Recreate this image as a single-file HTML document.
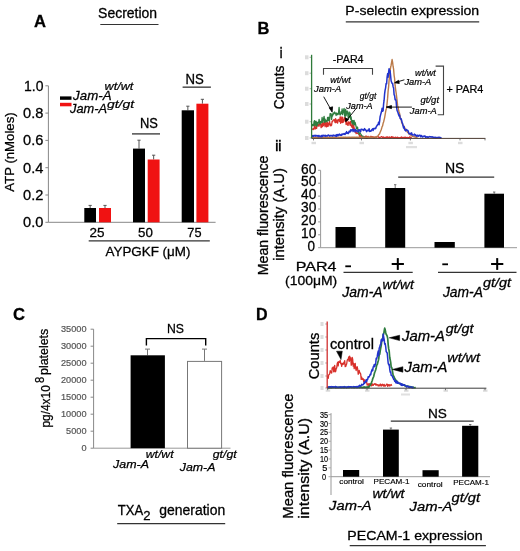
<!DOCTYPE html>
<html><head><meta charset="utf-8"><style>
html,body{margin:0;padding:0;background:#fff;}
svg{display:block;will-change:transform;}
text{font-family:"Liberation Sans",sans-serif;}
</style></head><body>
<svg width="520" height="551" viewBox="0 0 520 551">
<rect width="520" height="551" fill="#fff"/>
<text x="34.00" y="27.00" font-size="17.0" font-weight="bold" fill="#000" stroke="#000" stroke-width="0.30" textLength="12.00" lengthAdjust="spacingAndGlyphs">A</text>
<text x="98.10" y="18.00" font-size="14.0" fill="#000" stroke="#000" stroke-width="0.29" textLength="58.99" lengthAdjust="spacingAndGlyphs">Secretion</text>
<line x1="100.3" y1="24.5" x2="158.5" y2="24.5" stroke="#333" stroke-width="1"/>
<line x1="48.4" y1="85.8" x2="48.4" y2="222.3" stroke="#888" stroke-width="1"/>
<line x1="48.4" y1="222.3" x2="215.6" y2="222.3" stroke="#888" stroke-width="1"/>
<line x1="45.4" y1="222.3" x2="48.4" y2="222.3" stroke="#888" stroke-width="1"/>
<text x="23.10" y="227.20" font-size="15.0" fill="#000" stroke="#000" stroke-width="0.30" textLength="20.30" lengthAdjust="spacingAndGlyphs">0.0</text>
<line x1="45.4" y1="195.0" x2="48.4" y2="195.0" stroke="#888" stroke-width="1"/>
<text x="23.10" y="199.90" font-size="15.0" fill="#000" stroke="#000" stroke-width="0.30" textLength="20.30" lengthAdjust="spacingAndGlyphs">0.2</text>
<line x1="45.4" y1="167.70000000000002" x2="48.4" y2="167.70000000000002" stroke="#888" stroke-width="1"/>
<text x="23.10" y="172.60" font-size="15.0" fill="#000" stroke="#000" stroke-width="0.30" textLength="20.30" lengthAdjust="spacingAndGlyphs">0.4</text>
<line x1="45.4" y1="140.4" x2="48.4" y2="140.4" stroke="#888" stroke-width="1"/>
<text x="23.10" y="145.30" font-size="15.0" fill="#000" stroke="#000" stroke-width="0.30" textLength="20.30" lengthAdjust="spacingAndGlyphs">0.6</text>
<line x1="45.4" y1="113.10000000000001" x2="48.4" y2="113.10000000000001" stroke="#888" stroke-width="1"/>
<text x="23.10" y="118.00" font-size="15.0" fill="#000" stroke="#000" stroke-width="0.30" textLength="20.30" lengthAdjust="spacingAndGlyphs">0.8</text>
<line x1="45.4" y1="85.80000000000001" x2="48.4" y2="85.80000000000001" stroke="#888" stroke-width="1"/>
<text x="24.00" y="90.70" font-size="15.0" fill="#000" stroke="#000" stroke-width="0.30" textLength="19.40" lengthAdjust="spacingAndGlyphs">1.0</text>
<text transform="translate(14.10,191.70) rotate(-90)" x="-0.00" y="0" font-size="13.0" fill="#000" stroke="#000" stroke-width="0.27" textLength="79.40" lengthAdjust="spacingAndGlyphs">ATP (nMoles)</text>
<rect x="60.00" y="96.40" width="11.50" height="3.40" fill="#000" stroke="none" stroke-width="1"/>
<rect x="60.00" y="102.80" width="11.50" height="3.50" fill="#f01212" stroke="none" stroke-width="1"/>
<text x="73.14" y="100.30" font-size="13.0" font-style="italic" fill="#000" stroke="#000" stroke-width="0.27" textLength="38.36" lengthAdjust="spacingAndGlyphs">Jam-A</text>
<text x="104.60" y="89.50" font-size="11.0" font-style="italic" fill="#000" stroke="#000" stroke-width="0.23" textLength="28.76" lengthAdjust="spacingAndGlyphs">wt/wt</text>
<text x="70.04" y="113.00" font-size="13.0" font-style="italic" fill="#000" stroke="#000" stroke-width="0.27" textLength="36.96" lengthAdjust="spacingAndGlyphs">Jam-A</text>
<text x="107.00" y="108.00" font-size="11.0" font-style="italic" fill="#000" stroke="#000" stroke-width="0.23" textLength="27.11" lengthAdjust="spacingAndGlyphs">gt/gt</text>
<line x1="90.15" y1="205.4" x2="90.15" y2="208" stroke="#555" stroke-width="1"/>
<line x1="88.55000000000001" y1="205.4" x2="91.75" y2="205.4" stroke="#555" stroke-width="1"/>
<rect x="84.30" y="208.00" width="11.70" height="14.30" fill="#000" stroke="none" stroke-width="1"/>
<line x1="105.0" y1="205.4" x2="105.0" y2="208" stroke="#555" stroke-width="1"/>
<line x1="103.4" y1="205.4" x2="106.6" y2="205.4" stroke="#555" stroke-width="1"/>
<rect x="99.00" y="208.00" width="12.00" height="14.30" fill="#f01212" stroke="none" stroke-width="1"/>
<line x1="139.0" y1="140.2" x2="139.0" y2="148.6" stroke="#555" stroke-width="1"/>
<line x1="137.4" y1="140.2" x2="140.6" y2="140.2" stroke="#555" stroke-width="1"/>
<rect x="133.00" y="148.60" width="12.00" height="73.70" fill="#000" stroke="none" stroke-width="1"/>
<line x1="153.64999999999998" y1="155.2" x2="153.64999999999998" y2="159.5" stroke="#555" stroke-width="1"/>
<line x1="152.04999999999998" y1="155.2" x2="155.24999999999997" y2="155.2" stroke="#555" stroke-width="1"/>
<rect x="147.70" y="159.50" width="11.90" height="62.80" fill="#f01212" stroke="none" stroke-width="1"/>
<line x1="187.85" y1="106.2" x2="187.85" y2="110.3" stroke="#555" stroke-width="1"/>
<line x1="186.25" y1="106.2" x2="189.45" y2="106.2" stroke="#555" stroke-width="1"/>
<rect x="181.70" y="110.30" width="12.30" height="112.00" fill="#000" stroke="none" stroke-width="1"/>
<line x1="202.4" y1="99.3" x2="202.4" y2="103.7" stroke="#555" stroke-width="1"/>
<line x1="200.8" y1="99.3" x2="204.0" y2="99.3" stroke="#555" stroke-width="1"/>
<rect x="196.40" y="103.70" width="12.00" height="118.60" fill="#f01212" stroke="none" stroke-width="1"/>
<text x="140.00" y="128.40" font-size="14.2" fill="#000" stroke="#000" stroke-width="0.30" textLength="17.90" lengthAdjust="spacingAndGlyphs">NS</text>
<line x1="132" y1="133.9" x2="160" y2="133.9" stroke="#333" stroke-width="1.3"/>
<text x="185.60" y="84.40" font-size="14.2" fill="#000" stroke="#000" stroke-width="0.30" textLength="18.30" lengthAdjust="spacingAndGlyphs">NS</text>
<line x1="182.6" y1="87.15" x2="210.9" y2="87.15" stroke="#333" stroke-width="1.3"/>
<text x="89.50" y="236.70" font-size="13.5" fill="#000" stroke="#000" stroke-width="0.28" textLength="15.00" lengthAdjust="spacingAndGlyphs">25</text>
<text x="138.00" y="236.70" font-size="13.5" fill="#000" stroke="#000" stroke-width="0.28" textLength="14.80" lengthAdjust="spacingAndGlyphs">50</text>
<text x="187.30" y="236.70" font-size="13.5" fill="#000" stroke="#000" stroke-width="0.28" textLength="14.20" lengthAdjust="spacingAndGlyphs">75</text>
<line x1="88.7" y1="240.9" x2="209.8" y2="240.9" stroke="#333" stroke-width="1.2"/>
<text x="105.50" y="256.30" font-size="13.4" fill="#000" stroke="#000" stroke-width="0.28" textLength="84.89" lengthAdjust="spacingAndGlyphs">AYPGKF (μM)</text>
<text x="257.50" y="33.70" font-size="17.0" font-weight="bold" fill="#000" stroke="#000" stroke-width="0.30" textLength="11.90" lengthAdjust="spacingAndGlyphs">B</text>
<text x="345.30" y="15.20" font-size="13.4" fill="#000" stroke="#000" stroke-width="0.28" textLength="133.91" lengthAdjust="spacingAndGlyphs">P-selectin expression</text>
<line x1="345.8" y1="21.9" x2="479.2" y2="21.9" stroke="#333" stroke-width="1.2"/>
<text x="279.80" y="57.70" font-size="14.5" font-weight="bold" fill="#000" stroke="#000" stroke-width="0.30" textLength="2.70" lengthAdjust="spacingAndGlyphs">i</text>
<text transform="translate(284.20,109.20) rotate(-90)" x="-0.00" y="0" font-size="14.5" fill="#000" stroke="#000" stroke-width="0.30" textLength="43.71" lengthAdjust="spacingAndGlyphs">Counts</text>
<line x1="309.6" y1="57.3" x2="311.6" y2="57.3" stroke="#777" stroke-width="0.6"/>
<rect x="305.00" y="55.30" width="3.50" height="4.00" fill="#dcdcdc" stroke="none" stroke-width="1"/>
<line x1="309.6" y1="73.2" x2="311.6" y2="73.2" stroke="#777" stroke-width="0.6"/>
<rect x="305.00" y="71.20" width="3.50" height="4.00" fill="#dcdcdc" stroke="none" stroke-width="1"/>
<line x1="309.6" y1="88.7" x2="311.6" y2="88.7" stroke="#777" stroke-width="0.6"/>
<rect x="305.00" y="86.70" width="3.50" height="4.00" fill="#dcdcdc" stroke="none" stroke-width="1"/>
<line x1="309.6" y1="104" x2="311.6" y2="104" stroke="#777" stroke-width="0.6"/>
<rect x="305.00" y="102.00" width="3.50" height="4.00" fill="#dcdcdc" stroke="none" stroke-width="1"/>
<line x1="309.6" y1="121.7" x2="311.6" y2="121.7" stroke="#777" stroke-width="0.6"/>
<rect x="305.00" y="119.70" width="3.50" height="4.00" fill="#dcdcdc" stroke="none" stroke-width="1"/>
<line x1="309.6" y1="138" x2="311.6" y2="138" stroke="#777" stroke-width="0.6"/>
<rect x="305.00" y="136.00" width="3.50" height="4.00" fill="#dcdcdc" stroke="none" stroke-width="1"/>
<rect x="311.50" y="141.80" width="4.50" height="2.40" fill="#dcdcdc" stroke="none" stroke-width="1"/>
<rect x="359.50" y="141.80" width="4.50" height="2.40" fill="#dcdcdc" stroke="none" stroke-width="1"/>
<rect x="408.40" y="141.80" width="4.50" height="2.40" fill="#dcdcdc" stroke="none" stroke-width="1"/>
<rect x="458.00" y="141.80" width="4.50" height="2.40" fill="#dcdcdc" stroke="none" stroke-width="1"/>
<rect x="406.00" y="146.00" width="11.00" height="2.20" fill="#e0e0e0" stroke="none" stroke-width="1"/>
<polyline points="311.60,128.63 312.10,129.02 312.60,129.09 313.10,129.66 313.60,128.39 314.10,129.16 314.60,124.13 315.10,126.29 315.60,128.81 316.10,127.10 316.60,128.40 317.10,123.93 317.60,125.81 318.10,124.46 318.60,126.03 319.10,126.10 319.60,122.82 320.10,123.87 320.60,124.12 321.10,127.67 321.60,126.71 322.10,123.11 322.60,126.71 323.10,122.77 323.60,125.47 324.10,122.49 324.60,121.64 325.10,126.67 325.60,122.59 326.10,122.47 326.60,126.93 327.10,126.12 327.60,122.44 328.10,126.39 328.60,123.66 329.10,124.37 329.60,121.29 330.10,125.73 330.60,124.07 331.10,125.71 331.60,125.16 332.10,121.31 332.60,121.60 333.10,120.25 333.60,120.02 334.10,119.39 334.60,120.80 335.10,122.63 335.60,118.53 336.10,122.72 336.60,120.29 337.10,119.90 337.60,123.08 338.10,120.63 338.60,119.32 339.10,120.23 339.60,121.55 340.10,116.98 340.60,123.32 341.10,116.89 341.60,121.90 342.10,122.60 342.60,117.06 343.10,122.33 343.60,119.55 344.10,121.08 344.60,117.52 345.10,118.04 345.60,119.20 346.10,124.53 346.60,119.83 347.10,123.70 347.60,125.04 348.10,125.35 348.60,121.82 349.10,122.15 349.60,123.45 350.10,125.24 350.60,121.42 351.10,125.62 351.60,126.49 352.10,127.43 352.60,123.42 353.10,129.09 353.60,125.42 354.10,127.63 354.60,129.83 355.10,132.05 355.60,130.37 356.10,133.60 356.60,132.96 357.10,132.97 357.60,133.49 358.10,133.60 358.60,133.87 359.10,134.63 359.60,136.23 360.10,137.12 360.60,135.55 361.10,135.61 361.60,137.57 362.10,136.96 362.60,136.76 363.10,136.49 363.60,137.07 364.10,137.45 364.60,136.86 365.10,136.81 365.60,136.24 366.10,137.61 366.60,136.22 367.10,136.95 367.60,137.50 368.10,136.40 368.60,137.34 369.10,137.68 369.60,137.19 370.10,137.44 370.60,136.40 371.10,136.91 371.60,136.48 372.10,137.54 372.60,136.72 373.10,136.96 373.60,137.79 374.10,137.57 374.60,137.76 375.10,136.99 375.60,137.05 376.10,137.41 376.60,137.04 377.10,136.78 377.60,136.95 378.10,136.58 378.60,136.92 379.10,137.81 379.60,137.77 380.10,137.30 380.60,137.12 381.10,136.90 381.60,136.55 382.10,136.82 382.60,137.54 383.10,137.67 383.60,136.97 384.10,137.57 384.60,137.56 385.10,137.45 385.60,137.41 386.10,137.55 386.60,137.00 387.10,137.49 387.60,136.90 388.10,137.19 388.60,137.60 389.10,137.49 389.60,136.94 390.10,137.86 390.60,137.45 391.10,137.36 391.60,136.57 392.10,137.33 392.60,136.92 393.10,137.51 393.60,137.23 394.10,137.73 394.60,137.50 395.10,137.71 395.60,137.09 396.10,137.51 396.60,137.65 397.10,137.78 397.60,137.12 398.10,137.81 398.60,137.86 399.10,137.61 399.60,137.90 400.10,137.90 400.60,137.39 401.10,137.41 401.60,136.91 402.10,137.85 402.60,137.90 403.10,137.36 403.60,137.67 404.10,137.71 404.60,137.73 405.10,136.96 405.60,137.82 406.10,137.54 406.60,137.67 407.10,137.33 407.60,137.62 408.10,137.84 408.60,137.65 409.10,137.77 409.60,136.81 410.10,137.00 410.60,137.40 411.10,137.70 411.60,137.10" fill="none" stroke="#d8302a" stroke-width="1.3" stroke-linejoin="round"/>
<polyline points="311.60,124.43 312.10,125.90 312.60,124.46 313.10,125.55 313.60,125.33 314.10,121.36 314.60,120.62 315.10,125.69 315.60,121.66 316.10,121.28 316.60,126.20 317.10,122.46 317.60,124.76 318.10,122.10 318.60,123.02 319.10,119.43 319.60,122.60 320.10,124.05 320.60,121.42 321.10,122.78 321.60,122.09 322.10,117.52 322.60,122.33 323.10,120.92 323.60,118.60 324.10,116.40 324.60,122.37 325.10,119.25 325.60,120.84 326.10,121.81 326.60,120.33 327.10,121.67 327.60,117.39 328.10,120.28 328.60,117.27 329.10,120.87 329.60,120.19 330.10,113.72 330.60,113.60 331.10,113.83 331.60,119.53 332.10,114.79 332.60,115.97 333.10,112.85 333.60,114.18 334.10,112.75 334.60,112.04 335.10,113.64 335.60,113.14 336.10,115.48 336.60,113.03 337.10,114.77 337.60,113.64 338.10,114.53 338.60,111.79 339.10,107.35 339.60,113.87 340.10,114.99 340.60,114.62 341.10,111.78 341.60,113.26 342.10,108.96 342.60,114.67 343.10,112.56 343.60,110.20 344.10,108.45 344.60,115.57 345.10,116.93 345.60,109.28 346.10,115.69 346.60,112.76 347.10,111.00 347.60,112.67 348.10,117.08 348.60,118.35 349.10,111.99 349.60,117.08 350.10,113.01 350.60,119.12 351.10,116.85 351.60,121.78 352.10,123.22 352.60,120.44 353.10,124.74 353.60,120.89 354.10,120.38 354.60,124.84 355.10,122.30 355.60,124.40 356.10,126.64 356.60,128.61 357.10,127.03 357.60,127.38 358.10,132.24 358.60,130.50 359.10,134.04 359.60,134.28 360.10,132.82 360.60,133.73 361.10,134.52 361.60,135.46 362.10,135.83 362.60,136.07 363.10,136.54 363.60,137.52 364.10,136.98 364.60,137.22 365.10,137.94 365.60,137.29 366.10,137.45 366.60,138.00 367.10,137.91 367.60,138.00" fill="none" stroke="#2f7d3f" stroke-width="1.3" stroke-linejoin="round"/>
<polyline points="311.60,137.39 312.10,137.35 312.60,137.27 313.10,137.52 313.60,137.22 314.10,137.39 314.60,137.53 315.10,137.24 315.60,137.41 316.10,137.43 316.60,137.22 317.10,137.34 317.60,137.45 318.10,137.36 318.60,137.46 319.10,137.26 319.60,137.28 320.10,137.24 320.60,137.37 321.10,137.52 321.60,137.40 322.10,137.46 322.60,137.33 323.10,137.45 323.60,137.22 324.10,137.29 324.60,137.42 325.10,137.44 325.60,137.33 326.10,137.21 326.60,137.27 327.10,137.25 327.60,137.27 328.10,137.46 328.60,137.24 329.10,137.48 329.60,137.48 330.10,137.19 330.60,137.30 331.10,137.34 331.60,137.17 332.10,137.31 332.60,137.48 333.10,137.20 333.60,137.37 334.10,137.20 334.60,137.36 335.10,137.47 335.60,137.22 336.10,137.15 336.60,137.18 337.10,137.33 337.60,137.15 338.10,137.17 338.60,137.32 339.10,137.46 339.60,137.29 340.10,137.28 340.60,137.36 341.10,137.17 341.60,137.33 342.10,137.19 342.60,137.34 343.10,137.46 343.60,137.14 344.10,137.32 344.60,137.33 345.10,137.17 345.60,137.21 346.10,137.47 346.60,137.47 347.10,137.16 347.60,137.36 348.10,137.44 348.60,137.19 349.10,137.32 349.60,137.12 350.10,137.23 350.60,137.34 351.10,137.31 351.60,137.37 352.10,137.13 352.60,137.22 353.10,137.40 353.60,137.30 354.10,137.25 354.60,137.23 355.10,137.44 355.60,137.29 356.10,137.09 356.60,137.37 357.10,137.20 357.60,137.23 358.10,137.16 358.60,137.23 359.10,137.19 359.60,137.11 360.10,137.29 360.60,137.11 361.10,137.35 361.60,137.08 362.10,137.34 362.60,137.35 363.10,137.24 363.60,137.31 364.10,137.15 364.60,137.32 365.10,137.21 365.60,137.14 366.10,137.39 366.60,137.19 367.10,137.18 367.60,137.35 368.10,137.18 368.60,137.28 369.10,137.11 369.60,137.34 370.10,137.13 370.60,137.06 371.10,137.38 371.60,137.10 372.10,137.37 372.60,137.38 373.10,137.25 373.60,137.04 374.10,137.05 374.60,137.10 375.10,137.16 375.60,137.24 376.10,137.30 376.60,136.78 377.10,136.37 377.60,136.27 378.10,135.64 378.60,134.82 379.10,134.39 379.60,133.76 380.10,132.30 380.60,131.17 381.10,129.97 381.60,128.58 382.10,126.61 382.60,125.84 383.10,123.29 383.60,122.03 384.10,119.88 384.60,117.83 385.10,114.84 385.60,111.79 386.10,109.39 386.60,108.16 387.10,102.97 387.60,98.16 388.10,91.10 388.60,86.83 389.10,80.24 389.60,75.18 390.10,70.95 390.60,67.42 391.10,65.24 391.60,62.44 392.10,59.55 392.60,62.28 393.10,66.48 393.60,69.13 394.10,75.29 394.60,78.49 395.10,85.44 395.60,89.29 396.10,92.60 396.60,96.64 397.10,100.75 397.60,105.67 398.10,107.04 398.60,110.29 399.10,112.06 399.60,113.56 400.10,116.37 400.60,118.33 401.10,119.24 401.60,122.23 402.10,123.59 402.60,124.46 403.10,125.48 403.60,125.48 404.10,127.05 404.60,127.56 405.10,129.01 405.60,129.03 406.10,130.50 406.60,131.05 407.10,131.59 407.60,132.50 408.10,132.38 408.60,133.55 409.10,134.16 409.60,134.55 410.10,134.70 410.60,134.82 411.10,135.26 411.60,135.87 412.10,135.98 412.60,136.29 413.10,136.53 413.60,136.69 414.10,136.82 414.60,136.72 415.10,137.11 415.60,137.05 416.10,137.31 416.60,137.14 417.10,137.58 417.60,137.55" fill="none" stroke="#bb7a48" stroke-width="1.4" stroke-linejoin="round"/>
<polyline points="311.60,135.92 312.10,135.63 312.60,136.42 313.10,135.48 313.60,136.21 314.10,135.93 314.60,135.42 315.10,136.14 315.60,135.36 316.10,135.99 316.60,135.39 317.10,135.41 317.60,135.95 318.10,136.60 318.60,135.43 319.10,135.58 319.60,136.24 320.10,136.76 320.60,136.13 321.10,135.82 321.60,136.78 322.10,135.21 322.60,136.57 323.10,135.59 323.60,135.34 324.10,135.28 324.60,135.59 325.10,136.45 325.60,135.35 326.10,136.03 326.60,136.11 327.10,135.64 327.60,135.93 328.10,135.08 328.60,135.06 329.10,135.31 329.60,136.12 330.10,135.66 330.60,135.42 331.10,135.86 331.60,135.59 332.10,135.27 332.60,136.13 333.10,135.92 333.60,135.04 334.10,135.61 334.60,135.48 335.10,136.10 335.60,135.79 336.10,134.90 336.60,136.20 337.10,134.49 337.60,135.03 338.10,135.66 338.60,134.42 339.10,135.05 339.60,134.10 340.10,135.31 340.60,135.35 341.10,134.79 341.60,135.29 342.10,133.88 342.60,134.58 343.10,134.19 343.60,133.99 344.10,133.53 344.60,134.31 345.10,134.42 345.60,133.07 346.10,133.39 346.60,131.61 347.10,133.14 347.60,132.82 348.10,133.61 348.60,132.96 349.10,131.24 349.60,131.35 350.10,132.00 350.60,129.88 351.10,131.01 351.60,129.92 352.10,129.60 352.60,129.38 353.10,131.57 353.60,129.54 354.10,129.87 354.60,130.29 355.10,131.78 355.60,129.25 356.10,130.38 356.60,130.67 357.10,131.70 357.60,131.47 358.10,131.58 358.60,129.68 359.10,130.08 359.60,129.87 360.10,131.54 360.60,131.76 361.10,129.15 361.60,129.22 362.10,129.39 362.60,129.38 363.10,130.18 363.60,130.51 364.10,129.44 364.60,128.59 365.10,129.93 365.60,129.76 366.10,130.39 366.60,131.63 367.10,130.77 367.60,130.19 368.10,130.51 368.60,130.69 369.10,128.65 369.60,131.40 370.10,131.00 370.60,131.30 371.10,131.04 371.60,129.70 372.10,129.71 372.60,128.73 373.10,130.46 373.60,128.57 374.10,128.52 374.60,128.73 375.10,128.30 375.60,128.65 376.10,127.24 376.60,126.06 377.10,125.64 377.60,124.47 378.10,124.58 378.60,122.19 379.10,124.72 379.60,121.31 380.10,116.68 380.60,114.86 381.10,113.05 381.60,111.28 382.10,108.27 382.60,111.20 383.10,110.65 383.60,103.92 384.10,100.21 384.60,93.83 385.10,90.11 385.60,87.82 386.10,83.49 386.60,83.82 387.10,77.09 387.60,73.74 388.10,77.22 388.60,72.06 389.10,68.71 389.60,72.69 390.10,70.82 390.60,75.63 391.10,80.78 391.60,82.31 392.10,83.50 392.60,83.31 393.10,86.66 393.60,88.06 394.10,94.60 394.60,95.70 395.10,99.71 395.60,99.28 396.10,101.04 396.60,107.24 397.10,110.65 397.60,111.54 398.10,112.99 398.60,114.80 399.10,116.10 399.60,115.10 400.10,118.37 400.60,118.93 401.10,118.78 401.60,120.24 402.10,122.69 402.60,123.45 403.10,126.08 403.60,127.93 404.10,126.71 404.60,129.35 405.10,130.28 405.60,130.90 406.10,129.64 406.60,129.60 407.10,130.06 407.60,130.41 408.10,130.87 408.60,132.49 409.10,133.65 409.60,133.86 410.10,133.28 410.60,133.88 411.10,134.40 411.60,132.84 412.10,134.38 412.60,135.11 413.10,134.97 413.60,135.05 414.10,134.62 414.60,134.16 415.10,135.59 415.60,134.84 416.10,135.89 416.60,136.28 417.10,135.26 417.60,135.35 418.10,136.42 418.60,136.08 419.10,135.16 419.60,135.17 420.10,135.29 420.60,136.65 421.10,136.55 421.60,135.53 422.10,136.70 422.60,137.01 423.10,136.57 423.60,136.17 424.10,136.54 424.60,136.01 425.10,135.92 425.60,137.30 426.10,136.89 426.60,136.76 427.10,137.35 427.60,136.72 428.10,137.33 428.60,137.30 429.10,136.57 429.60,136.66 430.10,136.76 430.60,136.74 431.10,137.19 431.60,136.85 432.10,137.08 432.60,136.81 433.10,137.69 433.60,137.14 434.10,137.29 434.60,137.45 435.10,137.81 435.60,137.37 436.10,137.91 436.60,137.54 437.10,137.61 437.60,137.65 438.10,137.18 438.60,137.65 439.10,137.43 439.60,137.30 440.10,138.10 440.60,137.55 441.10,137.90 441.60,138.10" fill="none" stroke="#2233cc" stroke-width="1.5" stroke-linejoin="round"/>
<line x1="311.6" y1="54.8" x2="311.6" y2="138.4" stroke="#2f7a3a" stroke-width="1.3"/>
<line x1="311.6" y1="138.4" x2="485.4" y2="138.4" stroke="#4a3a30" stroke-width="1.0"/>
<line x1="313.5" y1="138.4" x2="313.5" y2="140.4" stroke="#555" stroke-width="0.8"/>
<line x1="361.5" y1="138.4" x2="361.5" y2="140.4" stroke="#555" stroke-width="0.8"/>
<line x1="410.4" y1="138.4" x2="410.4" y2="140.4" stroke="#555" stroke-width="0.8"/>
<line x1="460" y1="138.4" x2="460" y2="140.4" stroke="#555" stroke-width="0.8"/>
<line x1="485" y1="138.4" x2="485" y2="140.4" stroke="#555" stroke-width="0.8"/>
<text x="332.80" y="63.40" font-size="11.0" fill="#000" stroke="#000" stroke-width="0.23" textLength="30.80" lengthAdjust="spacingAndGlyphs">-PAR4</text>
<path d="M323.5,74.8 L323.5,68.5 L372.5,68.5 L372.5,74.8" fill="none" stroke="#444" stroke-width="1.1"/>
<text x="330.20" y="82.80" font-size="9.5" font-style="italic" fill="#000" stroke="#000" stroke-width="0.20" textLength="20.48" lengthAdjust="spacingAndGlyphs">wt/wt</text>
<text x="314.03" y="91.60" font-size="9.5" font-style="italic" fill="#000" stroke="#000" stroke-width="0.20" textLength="27.17" lengthAdjust="spacingAndGlyphs">Jam-A</text>
<text x="359.80" y="98.60" font-size="9.0" font-style="italic" fill="#000" stroke="#000" stroke-width="0.19" textLength="16.50" lengthAdjust="spacingAndGlyphs">gt/gt</text>
<text x="346.33" y="109.20" font-size="9.5" font-style="italic" fill="#000" stroke="#000" stroke-width="0.20" textLength="26.27" lengthAdjust="spacingAndGlyphs">Jam-A</text>
<path d="M323.7,96.7 L331.2,110" fill="none" stroke="#000" stroke-width="0.9"/>
<path d="M329.2,107.8 L332.1,112.1 L332.6,106.8 Z" fill="#000" stroke="#000" stroke-width="0.8"/>
<path d="M356.3,108.3 L346.5,120.5" fill="none" stroke="#000" stroke-width="0.9"/>
<path d="M345.2,117.8 L345.6,121.7 L348.6,119.6 Z" fill="#000" stroke="#000" stroke-width="0.8"/>
<text x="415.10" y="75.60" font-size="9.5" font-style="italic" fill="#000" stroke="#000" stroke-width="0.20" textLength="20.68" lengthAdjust="spacingAndGlyphs">wt/wt</text>
<text x="404.43" y="84.60" font-size="9.2" font-style="italic" fill="#000" stroke="#000" stroke-width="0.19" textLength="26.87" lengthAdjust="spacingAndGlyphs">Jam-A</text>
<text x="420.50" y="103.40" font-size="9.0" font-style="italic" fill="#000" stroke="#000" stroke-width="0.19" textLength="18.56" lengthAdjust="spacingAndGlyphs">gt/gt</text>
<text x="409.83" y="113.70" font-size="9.2" font-style="italic" fill="#000" stroke="#000" stroke-width="0.19" textLength="26.87" lengthAdjust="spacingAndGlyphs">Jam-A</text>
<path d="M404.4,79.8 L395.2,82.5" fill="none" stroke="#000" stroke-width="0.9"/>
<path d="M398.6,80.3 L394.6,82.8 L399.3,83.4 Z" fill="#000" stroke="#000" stroke-width="0.8"/>
<path d="M411.9,107.1 L386.6,107.1" fill="none" stroke="#000" stroke-width="0.9"/>
<path d="M391.5,105.6 L386.3,107.1 L391.5,108.6 Z" fill="#000" stroke="#000" stroke-width="0.8"/>
<path d="M435.6,66.1 L443.5,66.1 L443.5,114.7 L437.7,114.7" fill="none" stroke="#444" stroke-width="1.1"/>
<text x="446.50" y="92.70" font-size="11.0" fill="#000" stroke="#000" stroke-width="0.23" textLength="36.90" lengthAdjust="spacingAndGlyphs">+ PAR4</text>
<text x="275.20" y="150.80" font-size="15.0" font-weight="bold" fill="#000" stroke="#000" stroke-width="0.30" textLength="6.30" lengthAdjust="spacingAndGlyphs">ii</text>
<line x1="320.6" y1="170.29999999999998" x2="320.6" y2="247.7" stroke="#999" stroke-width="1"/>
<line x1="320.6" y1="247.7" x2="517" y2="247.7" stroke="#999" stroke-width="1"/>
<line x1="318.1" y1="247.7" x2="320.6" y2="247.7" stroke="#999" stroke-width="1"/>
<text x="307.50" y="250.90" font-size="14.8" fill="#000" stroke="#000" stroke-width="0.30" textLength="7.50" lengthAdjust="spacingAndGlyphs">0</text>
<line x1="318.1" y1="234.79999999999998" x2="320.6" y2="234.79999999999998" stroke="#999" stroke-width="1"/>
<text x="301.00" y="238.00" font-size="14.8" fill="#000" stroke="#000" stroke-width="0.30" textLength="15.30" lengthAdjust="spacingAndGlyphs">10</text>
<line x1="318.1" y1="221.89999999999998" x2="320.6" y2="221.89999999999998" stroke="#999" stroke-width="1"/>
<text x="301.00" y="225.10" font-size="14.8" fill="#000" stroke="#000" stroke-width="0.30" textLength="15.30" lengthAdjust="spacingAndGlyphs">20</text>
<line x1="318.1" y1="209.0" x2="320.6" y2="209.0" stroke="#999" stroke-width="1"/>
<text x="301.00" y="212.20" font-size="14.8" fill="#000" stroke="#000" stroke-width="0.30" textLength="15.30" lengthAdjust="spacingAndGlyphs">30</text>
<line x1="318.1" y1="196.1" x2="320.6" y2="196.1" stroke="#999" stroke-width="1"/>
<text x="301.00" y="199.30" font-size="14.8" fill="#000" stroke="#000" stroke-width="0.30" textLength="15.30" lengthAdjust="spacingAndGlyphs">40</text>
<line x1="318.1" y1="183.2" x2="320.6" y2="183.2" stroke="#999" stroke-width="1"/>
<text x="301.00" y="186.40" font-size="14.8" fill="#000" stroke="#000" stroke-width="0.30" textLength="15.30" lengthAdjust="spacingAndGlyphs">50</text>
<line x1="318.1" y1="170.29999999999998" x2="320.6" y2="170.29999999999998" stroke="#999" stroke-width="1"/>
<text x="301.00" y="173.50" font-size="14.8" fill="#000" stroke="#000" stroke-width="0.30" textLength="15.30" lengthAdjust="spacingAndGlyphs">60</text>
<text transform="translate(267.60,275.30) rotate(-90)" x="-0.00" y="0" font-size="14.0" fill="#000" stroke="#000" stroke-width="0.29" textLength="119.80" lengthAdjust="spacingAndGlyphs">Mean fluorescence</text>
<text transform="translate(284.00,260.80) rotate(-90)" x="-0.00" y="0" font-size="14.0" fill="#000" stroke="#000" stroke-width="0.29" textLength="92.60" lengthAdjust="spacingAndGlyphs">intensity (A.U)</text>
<rect x="335.50" y="227.00" width="20.20" height="20.70" fill="#000" stroke="none" stroke-width="1"/>
<line x1="395.2" y1="184.7" x2="395.2" y2="188" stroke="#555" stroke-width="0.8"/>
<line x1="394.0" y1="184.7" x2="396.4" y2="184.7" stroke="#555" stroke-width="0.8"/>
<rect x="385.20" y="188.00" width="20.00" height="59.70" fill="#000" stroke="none" stroke-width="1"/>
<rect x="434.50" y="242.00" width="20.30" height="5.70" fill="#000" stroke="none" stroke-width="1"/>
<line x1="494.2" y1="192" x2="494.2" y2="193.7" stroke="#555" stroke-width="0.8"/>
<line x1="493.0" y1="192" x2="495.4" y2="192" stroke="#555" stroke-width="0.8"/>
<rect x="484.40" y="193.70" width="19.60" height="54.00" fill="#000" stroke="none" stroke-width="1"/>
<text x="444.90" y="173.20" font-size="14.0" fill="#000" stroke="#000" stroke-width="0.29" textLength="19.50" lengthAdjust="spacingAndGlyphs">NS</text>
<line x1="398.2" y1="177.1" x2="494.2" y2="177.1" stroke="#333" stroke-width="1.2"/>
<text x="295.70" y="271.20" font-size="13.5" fill="#000" stroke="#000" stroke-width="0.28" textLength="40.80" lengthAdjust="spacingAndGlyphs">PAR4</text>
<text x="285.00" y="285.00" font-size="13.5" fill="#000" stroke="#000" stroke-width="0.28" textLength="52.20" lengthAdjust="spacingAndGlyphs">(100μM)</text>
<rect x="345.30" y="265.40" width="5.70" height="1.80" fill="#000" stroke="none" stroke-width="1"/>
<rect x="442.30" y="263.40" width="5.70" height="1.80" fill="#000" stroke="none" stroke-width="1"/>
<rect x="391.70" y="263.00" width="12.20" height="2.00" fill="#000" stroke="none" stroke-width="1"/>
<rect x="396.80" y="258.10" width="2.00" height="11.80" fill="#000" stroke="none" stroke-width="1"/>
<rect x="491.10" y="263.00" width="12.20" height="2.00" fill="#000" stroke="none" stroke-width="1"/>
<rect x="496.20" y="258.10" width="2.00" height="11.80" fill="#000" stroke="none" stroke-width="1"/>
<line x1="343.5" y1="272.4" x2="412.7" y2="272.4" stroke="#333" stroke-width="1.2"/>
<line x1="438" y1="272.4" x2="516.5" y2="272.4" stroke="#333" stroke-width="1.2"/>
<text x="342.34" y="297.40" font-size="14.4" font-style="italic" fill="#000" stroke="#000" stroke-width="0.30" textLength="40.26" lengthAdjust="spacingAndGlyphs">Jam-A</text>
<text x="382.60" y="288.60" font-size="12.5" font-style="italic" fill="#000" stroke="#000" stroke-width="0.26" textLength="31.12" lengthAdjust="spacingAndGlyphs">wt/wt</text>
<text x="442.94" y="297.10" font-size="14.4" font-style="italic" fill="#000" stroke="#000" stroke-width="0.30" textLength="39.96" lengthAdjust="spacingAndGlyphs">Jam-A</text>
<text x="482.90" y="287.10" font-size="12.5" font-style="italic" fill="#000" stroke="#000" stroke-width="0.26" textLength="27.99" lengthAdjust="spacingAndGlyphs">gt/gt</text>
<text x="13.00" y="320.00" font-size="17.0" font-weight="bold" fill="#000" stroke="#000" stroke-width="0.30" textLength="12.00" lengthAdjust="spacingAndGlyphs">C</text>
<line x1="93.6" y1="329.2" x2="93.6" y2="448.2" stroke="#888" stroke-width="1"/>
<line x1="93.6" y1="448.2" x2="230.5" y2="448.2" stroke="#999" stroke-width="1"/>
<line x1="90.6" y1="448.2" x2="93.6" y2="448.2" stroke="#888" stroke-width="1"/>
<text x="81.40" y="451.00" font-size="9.9" fill="#555" stroke="#555" stroke-width="0.21" textLength="5.10" lengthAdjust="spacingAndGlyphs">0</text>
<line x1="90.6" y1="431.2" x2="93.6" y2="431.2" stroke="#888" stroke-width="1"/>
<text x="66.10" y="434.00" font-size="9.9" fill="#555" stroke="#555" stroke-width="0.21" textLength="20.40" lengthAdjust="spacingAndGlyphs">5000</text>
<line x1="90.6" y1="414.2" x2="93.6" y2="414.2" stroke="#888" stroke-width="1"/>
<text x="61.00" y="417.00" font-size="9.9" fill="#555" stroke="#555" stroke-width="0.21" textLength="25.50" lengthAdjust="spacingAndGlyphs">10000</text>
<line x1="90.6" y1="397.2" x2="93.6" y2="397.2" stroke="#888" stroke-width="1"/>
<text x="61.00" y="400.00" font-size="9.9" fill="#555" stroke="#555" stroke-width="0.21" textLength="25.50" lengthAdjust="spacingAndGlyphs">15000</text>
<line x1="90.6" y1="380.2" x2="93.6" y2="380.2" stroke="#888" stroke-width="1"/>
<text x="61.00" y="383.00" font-size="9.9" fill="#555" stroke="#555" stroke-width="0.21" textLength="25.50" lengthAdjust="spacingAndGlyphs">20000</text>
<line x1="90.6" y1="363.2" x2="93.6" y2="363.2" stroke="#888" stroke-width="1"/>
<text x="61.00" y="366.00" font-size="9.9" fill="#555" stroke="#555" stroke-width="0.21" textLength="25.50" lengthAdjust="spacingAndGlyphs">25000</text>
<line x1="90.6" y1="346.2" x2="93.6" y2="346.2" stroke="#888" stroke-width="1"/>
<text x="61.00" y="349.00" font-size="9.9" fill="#555" stroke="#555" stroke-width="0.21" textLength="25.50" lengthAdjust="spacingAndGlyphs">30000</text>
<line x1="90.6" y1="329.2" x2="93.6" y2="329.2" stroke="#888" stroke-width="1"/>
<text x="61.00" y="332.00" font-size="9.9" fill="#555" stroke="#555" stroke-width="0.21" textLength="25.50" lengthAdjust="spacingAndGlyphs">35000</text>
<text transform="translate(50.20,427.60) rotate(-90)" x="-0.00" y="0" font-size="13.0" fill="#000" stroke="#000" stroke-width="0.27" textLength="42.40" lengthAdjust="spacingAndGlyphs">pg/4x10</text>
<text transform="translate(43.60,383.00) rotate(-90)" x="-0.00" y="0" font-size="12.3" fill="#000" stroke="#000" stroke-width="0.26" textLength="6.20" lengthAdjust="spacingAndGlyphs">8</text>
<text transform="translate(48.10,375.00) rotate(-90)" x="-0.00" y="0" font-size="12.3" fill="#000" stroke="#000" stroke-width="0.26" textLength="46.30" lengthAdjust="spacingAndGlyphs">platelets</text>
<line x1="147.5" y1="349.1" x2="147.5" y2="355.3" stroke="#777" stroke-width="1"/>
<line x1="145.0" y1="349.1" x2="150.0" y2="349.1" stroke="#777" stroke-width="1"/>
<rect x="130.60" y="355.30" width="34.30" height="92.90" fill="#000" stroke="none" stroke-width="1"/>
<line x1="204.5" y1="349.1" x2="204.5" y2="360.9" stroke="#777" stroke-width="1"/>
<line x1="202.0" y1="349.1" x2="207.0" y2="349.1" stroke="#777" stroke-width="1"/>
<rect x="187.50" y="361.40" width="34.10" height="86.80" fill="#fff" stroke="#777" stroke-width="1"/>
<path d="M146.4,345.5 L146.4,338.6 L205.7,338.6 L205.7,345.5" fill="none" stroke="#000" stroke-width="1.4"/>
<text x="167.00" y="333.10" font-size="12.5" fill="#000" stroke="#000" stroke-width="0.26" textLength="17.00" lengthAdjust="spacingAndGlyphs">NS</text>
<text x="145.70" y="457.80" font-size="11.5" font-style="italic" fill="#000" stroke="#000" stroke-width="0.24" textLength="27.87" lengthAdjust="spacingAndGlyphs">wt/wt</text>
<text x="113.14" y="467.80" font-size="11.8" font-style="italic" fill="#000" stroke="#000" stroke-width="0.25" textLength="35.87" lengthAdjust="spacingAndGlyphs">Jam-A</text>
<text x="212.70" y="457.80" font-size="11.5" font-style="italic" fill="#000" stroke="#000" stroke-width="0.24" textLength="24.06" lengthAdjust="spacingAndGlyphs">gt/gt</text>
<text x="179.74" y="470.50" font-size="11.8" font-style="italic" fill="#000" stroke="#000" stroke-width="0.25" textLength="35.67" lengthAdjust="spacingAndGlyphs">Jam-A</text>
<text x="117.80" y="514.80" font-size="14.0" fill="#000" stroke="#000" stroke-width="0.29" textLength="25.30" lengthAdjust="spacingAndGlyphs">TXA</text>
<text x="143.30" y="519.80" font-size="13.2" fill="#000" stroke="#000" stroke-width="0.28" textLength="7.30" lengthAdjust="spacingAndGlyphs">2</text>
<text x="159.30" y="514.80" font-size="14.0" fill="#000" stroke="#000" stroke-width="0.29" textLength="65.90" lengthAdjust="spacingAndGlyphs">generation</text>
<line x1="117.2" y1="523.6" x2="225.2" y2="523.6" stroke="#333" stroke-width="1.2"/>
<text x="255.90" y="319.80" font-size="17.0" font-weight="bold" fill="#000" stroke="#000" stroke-width="0.30" textLength="11.60" lengthAdjust="spacingAndGlyphs">D</text>
<text transform="translate(319.20,379.30) rotate(-90)" x="-0.00" y="0" font-size="15.4" fill="#000" stroke="#000" stroke-width="0.30" textLength="46.61" lengthAdjust="spacingAndGlyphs">Counts</text>
<line x1="325.2" y1="324" x2="327.2" y2="324" stroke="#777" stroke-width="0.6"/>
<rect x="320.50" y="322.00" width="3.00" height="4.00" fill="#dcdcdc" stroke="none" stroke-width="1"/>
<line x1="325.2" y1="337" x2="327.2" y2="337" stroke="#777" stroke-width="0.6"/>
<rect x="320.50" y="335.00" width="3.00" height="4.00" fill="#dcdcdc" stroke="none" stroke-width="1"/>
<line x1="325.2" y1="350" x2="327.2" y2="350" stroke="#777" stroke-width="0.6"/>
<rect x="320.50" y="348.00" width="3.00" height="4.00" fill="#dcdcdc" stroke="none" stroke-width="1"/>
<line x1="325.2" y1="363" x2="327.2" y2="363" stroke="#777" stroke-width="0.6"/>
<rect x="320.50" y="361.00" width="3.00" height="4.00" fill="#dcdcdc" stroke="none" stroke-width="1"/>
<line x1="325.2" y1="376" x2="327.2" y2="376" stroke="#777" stroke-width="0.6"/>
<rect x="320.50" y="374.00" width="3.00" height="4.00" fill="#dcdcdc" stroke="none" stroke-width="1"/>
<line x1="325.2" y1="388" x2="327.2" y2="388" stroke="#777" stroke-width="0.6"/>
<rect x="320.50" y="386.00" width="3.00" height="4.00" fill="#dcdcdc" stroke="none" stroke-width="1"/>
<rect x="325.70" y="389.50" width="4.50" height="2.30" fill="#dcdcdc" stroke="none" stroke-width="1"/>
<rect x="365.00" y="389.50" width="4.50" height="2.30" fill="#dcdcdc" stroke="none" stroke-width="1"/>
<rect x="404.00" y="389.50" width="4.50" height="2.30" fill="#dcdcdc" stroke="none" stroke-width="1"/>
<rect x="443.50" y="389.50" width="4.50" height="2.30" fill="#dcdcdc" stroke="none" stroke-width="1"/>
<rect x="483.00" y="389.50" width="4.50" height="2.30" fill="#dcdcdc" stroke="none" stroke-width="1"/>
<rect x="401.00" y="393.50" width="9.00" height="2.00" fill="#e0e0e0" stroke="none" stroke-width="1"/>
<polyline points="327.20,377.25 327.70,377.03 328.20,378.34 328.70,374.88 329.20,374.33 329.70,374.03 330.20,370.60 330.70,371.94 331.20,372.28 331.70,373.04 332.20,367.79 332.70,368.86 333.20,366.93 333.70,371.73 334.20,370.52 334.70,365.32 335.20,371.88 335.70,371.34 336.20,368.55 336.70,367.82 337.20,363.78 337.70,362.18 338.20,365.80 338.70,361.56 339.20,362.14 339.70,362.26 340.20,360.30 340.70,363.69 341.20,363.29 341.70,366.46 342.20,363.55 342.70,364.38 343.20,362.99 343.70,364.18 344.20,362.23 344.70,360.57 345.20,366.62 345.70,366.49 346.20,365.03 346.70,363.76 347.20,360.23 347.70,359.35 348.20,359.73 348.70,356.95 349.20,361.38 349.70,356.16 350.20,360.16 350.70,357.99 351.20,365.23 351.70,364.50 352.20,357.38 352.70,359.48 353.20,366.20 353.70,363.45 354.20,368.63 354.70,364.88 355.20,363.37 355.70,368.69 356.20,370.50 356.70,367.39 357.20,366.76 357.70,369.21 358.20,374.26 358.70,373.45 359.20,370.43 359.70,372.55 360.20,372.98 360.70,374.09 361.20,379.33 361.70,377.09 362.20,379.47 362.70,379.42 363.20,378.75 363.70,381.66 364.20,379.58 364.70,382.20 365.20,380.64 365.70,382.24 366.20,381.90 366.70,382.52 367.20,385.15 367.70,384.95 368.20,383.88 368.70,385.57 369.20,383.75 369.70,384.28 370.20,385.54 370.70,384.99 371.20,383.56 371.70,385.95 372.20,383.92 372.70,384.06 373.20,385.43 373.70,384.30 374.20,384.24 374.70,383.69 375.20,383.75 375.70,385.03 376.20,384.18 376.70,385.11 377.20,384.54 377.70,384.76 378.20,386.05 378.70,384.87 379.20,385.11 379.70,385.85 380.20,384.17 380.70,384.11 381.20,385.99 381.70,385.78 382.20,384.40 382.70,384.27 383.20,385.62 383.70,386.12 384.20,384.34 384.70,386.16 385.20,386.01 385.70,385.36 386.20,384.94 386.70,384.21 387.20,384.07 387.70,386.26 388.20,384.58 388.70,385.68 389.20,384.66 389.70,385.98 390.20,385.47 390.70,384.79 391.20,384.54 391.70,385.79" fill="none" stroke="#d8302a" stroke-width="1.3" stroke-linejoin="round"/>
<polyline points="327.20,387.66 327.70,387.13 328.20,387.52 328.70,387.20 329.20,387.66 329.70,387.12 330.20,387.59 330.70,387.48 331.20,387.58 331.70,387.65 332.20,387.23 332.70,387.28 333.20,387.49 333.70,387.25 334.20,387.24 334.70,387.21 335.20,387.56 335.70,387.57 336.20,387.52 336.70,387.20 337.20,387.59 337.70,387.36 338.20,387.20 338.70,387.32 339.20,387.30 339.70,387.11 340.20,387.37 340.70,387.26 341.20,387.37 341.70,387.57 342.20,387.41 342.70,387.27 343.20,387.52 343.70,387.59 344.20,387.31 344.70,387.56 345.20,387.05 345.70,387.11 346.20,387.13 346.70,387.55 347.20,387.41 347.70,387.42 348.20,387.18 348.70,387.29 349.20,387.51 349.70,387.07 350.20,387.08 350.70,387.04 351.20,387.27 351.70,387.47 352.20,387.31 352.70,387.22 353.20,387.28 353.70,387.10 354.20,387.52 354.70,387.19 355.20,387.12 355.70,387.16 356.20,387.44 356.70,387.16 357.20,387.48 357.70,387.16 358.20,387.22 358.70,387.01 359.20,387.47 359.70,387.41 360.20,387.23 360.70,387.03 361.20,387.23 361.70,387.17 362.20,387.42 362.70,387.47 363.20,387.36 363.70,387.11 364.20,386.97 364.70,387.44 365.20,387.46 365.70,387.03 366.20,387.21 366.70,387.20 367.20,387.47 367.70,386.95 368.20,386.96 368.70,387.39 369.20,386.72 369.70,385.76 370.20,385.21 370.70,384.15 371.20,383.42 371.70,381.91 372.20,380.73 372.70,378.77 373.20,377.59 373.70,376.51 374.20,374.17 374.70,372.32 375.20,371.26 375.70,369.76 376.20,367.72 376.70,365.14 377.20,364.72 377.70,362.71 378.20,361.07 378.70,359.13 379.20,354.07 379.70,354.39 380.20,350.90 380.70,348.12 381.20,345.66 381.70,341.42 382.20,338.87 382.70,338.81 383.20,334.24 383.70,334.03 384.20,330.96 384.70,328.17 385.20,329.80 385.70,332.43 386.20,334.39 386.70,335.04 387.20,336.05 387.70,338.45 388.20,344.87 388.70,348.91 389.20,351.22 389.70,357.23 390.20,359.75 390.70,362.42 391.20,367.32 391.70,367.39 392.20,369.65 392.70,372.60 393.20,375.55 393.70,376.14 394.20,377.04 394.70,378.90 395.20,378.93 395.70,380.67 396.20,380.39 396.70,382.09 397.20,381.41 397.70,382.48 398.20,383.04 398.70,383.07 399.20,383.26 399.70,383.52 400.20,384.08 400.70,383.90 401.20,384.04 401.70,384.69 402.20,384.79 402.70,384.49 403.20,385.07 403.70,385.14 404.20,384.97 404.70,385.65 405.20,385.85 405.70,385.58 406.20,386.18 406.70,386.41 407.20,386.27 407.70,386.20 408.20,386.24 408.70,386.28 409.20,386.53 409.70,387.13 410.20,386.67 410.70,387.24 411.20,387.19 411.70,387.31 412.20,387.01 412.70,387.39 413.20,387.22 413.70,387.55 414.20,387.69 414.70,387.73 415.20,387.70 415.70,387.80" fill="none" stroke="#2f7d3f" stroke-width="1.7" stroke-linejoin="round"/>
<polyline points="327.20,386.75 327.70,387.19 328.20,387.19 328.70,387.36 329.20,386.68 329.70,386.72 330.20,386.64 330.70,386.72 331.20,387.24 331.70,386.62 332.20,387.03 332.70,386.70 333.20,386.79 333.70,386.93 334.20,387.35 334.70,387.11 335.20,386.50 335.70,386.77 336.20,386.64 336.70,387.38 337.20,387.32 337.70,387.32 338.20,387.34 338.70,387.25 339.20,387.46 339.70,387.30 340.20,386.75 340.70,387.36 341.20,386.99 341.70,387.26 342.20,387.07 342.70,386.93 343.20,386.86 343.70,386.93 344.20,386.81 344.70,386.60 345.20,387.33 345.70,387.31 346.20,387.50 346.70,387.20 347.20,387.06 347.70,387.26 348.20,386.62 348.70,387.18 349.20,386.94 349.70,386.67 350.20,386.69 350.70,387.02 351.20,386.75 351.70,386.96 352.20,387.11 352.70,386.89 353.20,386.62 353.70,386.99 354.20,386.73 354.70,386.73 355.20,386.68 355.70,386.86 356.20,386.56 356.70,387.16 357.20,387.33 357.70,386.49 358.20,386.73 358.70,386.87 359.20,385.37 359.70,385.30 360.20,386.20 360.70,386.09 361.20,385.57 361.70,384.36 362.20,384.39 362.70,384.93 363.20,384.57 363.70,383.96 364.20,381.99 364.70,383.26 365.20,381.50 365.70,382.03 366.20,379.55 366.70,381.46 367.20,379.55 367.70,379.25 368.20,376.68 368.70,377.44 369.20,376.58 369.70,375.90 370.20,374.21 370.70,374.79 371.20,372.11 371.70,370.89 372.20,369.25 372.70,370.75 373.20,366.92 373.70,366.46 374.20,364.61 374.70,366.67 375.20,364.67 375.70,362.93 376.20,358.24 376.70,358.95 377.20,356.64 377.70,353.35 378.20,351.10 378.70,355.79 379.20,348.09 379.70,347.16 380.20,344.86 380.70,344.87 381.20,339.77 381.70,340.98 382.20,339.02 382.70,340.71 383.20,334.10 383.70,337.12 384.20,339.63 384.70,344.12 385.20,343.52 385.70,346.78 386.20,351.56 386.70,352.27 387.20,353.00 387.70,358.43 388.20,363.31 388.70,364.64 389.20,364.39 389.70,369.04 390.20,372.17 390.70,371.81 391.20,375.36 391.70,375.43 392.20,376.03 392.70,377.23 393.20,377.99 393.70,379.52 394.20,379.61 394.70,381.24 395.20,380.58 395.70,382.70 396.20,382.47 396.70,381.09 397.20,383.36 397.70,382.07 398.20,383.04 398.70,383.44 399.20,383.13 399.70,383.27 400.20,383.83 400.70,383.40 401.20,385.19 401.70,383.84 402.20,385.45 402.70,384.43 403.20,384.78 403.70,385.12 404.20,384.68 404.70,385.04 405.20,385.61 405.70,385.92 406.20,386.73 406.70,387.03 407.20,385.93 407.70,386.74 408.20,386.41 408.70,387.25 409.20,386.82 409.70,387.48 410.20,387.21 410.70,386.88 411.20,386.84 411.70,387.16 412.20,387.80 412.70,387.23 413.20,387.65 413.70,387.62" fill="none" stroke="#2233cc" stroke-width="1.5" stroke-linejoin="round"/>
<line x1="327.2" y1="321.5" x2="327.2" y2="388.2" stroke="#d03030" stroke-width="1.3"/>
<line x1="327.2" y1="388.2" x2="486.4" y2="388.2" stroke="#3a3a3a" stroke-width="1.0"/>
<line x1="327.7" y1="388.2" x2="327.7" y2="390.2" stroke="#555" stroke-width="0.8"/>
<line x1="367" y1="388.2" x2="367" y2="390.2" stroke="#555" stroke-width="0.8"/>
<line x1="406" y1="388.2" x2="406" y2="390.2" stroke="#555" stroke-width="0.8"/>
<line x1="445.5" y1="388.2" x2="445.5" y2="390.2" stroke="#555" stroke-width="0.8"/>
<line x1="485" y1="388.2" x2="485" y2="390.2" stroke="#555" stroke-width="0.8"/>
<text x="330.00" y="348.80" font-size="14.2" fill="#000" stroke="#000" stroke-width="0.30" textLength="44.01" lengthAdjust="spacingAndGlyphs">control</text>
<path d="M336.5,351.2 L342.3,351.2 L341,359.6 Z" fill="#000" stroke="#000" stroke-width="0.5"/>
<text x="402.04" y="341.00" font-size="15.3" font-style="italic" fill="#000" stroke="#000" stroke-width="0.30" textLength="42.96" lengthAdjust="spacingAndGlyphs">Jam-A</text>
<text x="445.70" y="332.50" font-size="12.5" font-style="italic" fill="#000" stroke="#000" stroke-width="0.26" textLength="27.70" lengthAdjust="spacingAndGlyphs">gt/gt</text>
<path d="M389.2,337.8 L399.6,335.2 L399.6,340.6 Z" fill="#000" stroke="#000" stroke-width="0.5"/>
<text x="404.54" y="371.60" font-size="15.3" font-style="italic" fill="#000" stroke="#000" stroke-width="0.30" textLength="42.76" lengthAdjust="spacingAndGlyphs">Jam-A</text>
<text x="447.30" y="361.60" font-size="12.5" font-style="italic" fill="#000" stroke="#000" stroke-width="0.26" textLength="32.60" lengthAdjust="spacingAndGlyphs">wt/wt</text>
<path d="M392.4,369.4 L402.9,366.7 L402.9,372.2 Z" fill="#000" stroke="#000" stroke-width="0.5"/>
<line x1="331" y1="413.11" x2="331" y2="495" stroke="#999" stroke-width="1"/>
<line x1="331" y1="476.7" x2="490" y2="476.7" stroke="#999" stroke-width="1"/>
<line x1="328.5" y1="476.7" x2="331" y2="476.7" stroke="#aaa" stroke-width="1"/>
<text x="322.00" y="479.80" font-size="9.0" fill="#000" stroke="#000" stroke-width="0.19" textLength="4.10" lengthAdjust="spacingAndGlyphs">0</text>
<line x1="328.5" y1="467.83" x2="331" y2="467.83" stroke="#aaa" stroke-width="1"/>
<text x="322.30" y="470.93" font-size="9.0" fill="#000" stroke="#000" stroke-width="0.19" textLength="5.10" lengthAdjust="spacingAndGlyphs">5</text>
<line x1="328.5" y1="458.96" x2="331" y2="458.96" stroke="#aaa" stroke-width="1"/>
<text x="320.00" y="462.06" font-size="9.0" fill="#000" stroke="#000" stroke-width="0.19" textLength="8.10" lengthAdjust="spacingAndGlyphs">10</text>
<line x1="328.5" y1="450.09" x2="331" y2="450.09" stroke="#aaa" stroke-width="1"/>
<text x="320.00" y="453.19" font-size="9.0" fill="#000" stroke="#000" stroke-width="0.19" textLength="8.10" lengthAdjust="spacingAndGlyphs">15</text>
<line x1="328.5" y1="441.21999999999997" x2="331" y2="441.21999999999997" stroke="#aaa" stroke-width="1"/>
<text x="320.00" y="444.32" font-size="9.0" fill="#000" stroke="#000" stroke-width="0.19" textLength="8.10" lengthAdjust="spacingAndGlyphs">20</text>
<line x1="328.5" y1="432.35" x2="331" y2="432.35" stroke="#aaa" stroke-width="1"/>
<text x="320.00" y="435.45" font-size="9.0" fill="#000" stroke="#000" stroke-width="0.19" textLength="8.10" lengthAdjust="spacingAndGlyphs">25</text>
<line x1="328.5" y1="423.48" x2="331" y2="423.48" stroke="#aaa" stroke-width="1"/>
<text x="320.00" y="426.58" font-size="9.0" fill="#000" stroke="#000" stroke-width="0.19" textLength="8.10" lengthAdjust="spacingAndGlyphs">30</text>
<line x1="328.5" y1="414.61" x2="331" y2="414.61" stroke="#aaa" stroke-width="1"/>
<text x="320.00" y="417.71" font-size="9.0" fill="#000" stroke="#000" stroke-width="0.19" textLength="8.10" lengthAdjust="spacingAndGlyphs">35</text>
<text transform="translate(292.60,518.70) rotate(-90)" x="-0.00" y="0" font-size="15.5" fill="#000" stroke="#000" stroke-width="0.30" textLength="125.20" lengthAdjust="spacingAndGlyphs">Mean fluorescence</text>
<text transform="translate(309.30,518.70) rotate(-90)" x="-0.00" y="0" font-size="15.5" fill="#000" stroke="#000" stroke-width="0.30" textLength="100.91" lengthAdjust="spacingAndGlyphs">intensity (A.U)</text>
<rect x="343.00" y="470.00" width="16.20" height="6.70" fill="#000" stroke="none" stroke-width="1"/>
<line x1="390.9" y1="428" x2="390.9" y2="429.6" stroke="#555" stroke-width="0.8"/>
<line x1="389.7" y1="428" x2="392.09999999999997" y2="428" stroke="#555" stroke-width="0.8"/>
<rect x="383.00" y="429.60" width="15.80" height="47.10" fill="#000" stroke="none" stroke-width="1"/>
<rect x="422.50" y="470.20" width="16.20" height="6.50" fill="#000" stroke="none" stroke-width="1"/>
<line x1="470.20000000000005" y1="424.5" x2="470.20000000000005" y2="425.8" stroke="#555" stroke-width="0.8"/>
<line x1="469.00000000000006" y1="424.5" x2="471.40000000000003" y2="424.5" stroke="#555" stroke-width="0.8"/>
<rect x="462.10" y="425.80" width="16.20" height="50.90" fill="#000" stroke="none" stroke-width="1"/>
<text x="427.90" y="418.30" font-size="13.5" fill="#000" stroke="#000" stroke-width="0.28" textLength="18.90" lengthAdjust="spacingAndGlyphs">NS</text>
<line x1="390.8" y1="421.2" x2="473.7" y2="421.2" stroke="#333" stroke-width="1.2"/>
<text x="339.30" y="484.10" font-size="7.0" fill="#000" stroke="#000" stroke-width="0.15" textLength="24.60" lengthAdjust="spacingAndGlyphs">control</text>
<text x="373.50" y="484.40" font-size="7.0" fill="#000" stroke="#000" stroke-width="0.15" textLength="36.10" lengthAdjust="spacingAndGlyphs">PECAM-1</text>
<text x="417.70" y="486.80" font-size="7.0" fill="#000" stroke="#000" stroke-width="0.15" textLength="25.00" lengthAdjust="spacingAndGlyphs">control</text>
<text x="453.20" y="484.60" font-size="7.0" fill="#000" stroke="#000" stroke-width="0.15" textLength="35.80" lengthAdjust="spacingAndGlyphs">PECAM-1</text>
<text x="329.14" y="509.60" font-size="13.7" font-style="italic" fill="#000" stroke="#000" stroke-width="0.29" textLength="42.46" lengthAdjust="spacingAndGlyphs">Jam-A</text>
<text x="372.40" y="498.10" font-size="12.5" font-style="italic" fill="#000" stroke="#000" stroke-width="0.26" textLength="32.10" lengthAdjust="spacingAndGlyphs">wt/wt</text>
<text x="409.64" y="511.30" font-size="13.7" font-style="italic" fill="#000" stroke="#000" stroke-width="0.29" textLength="42.76" lengthAdjust="spacingAndGlyphs">Jam-A</text>
<text x="451.60" y="501.50" font-size="12.5" font-style="italic" fill="#000" stroke="#000" stroke-width="0.26" textLength="28.39" lengthAdjust="spacingAndGlyphs">gt/gt</text>
<text x="347.30" y="539.90" font-size="13.4" fill="#000" stroke="#000" stroke-width="0.28" textLength="135.30" lengthAdjust="spacingAndGlyphs">PECAM-1 expression</text>
<line x1="349.7" y1="545.6" x2="485.9" y2="545.6" stroke="#333" stroke-width="1.2"/>
</svg></body></html>
